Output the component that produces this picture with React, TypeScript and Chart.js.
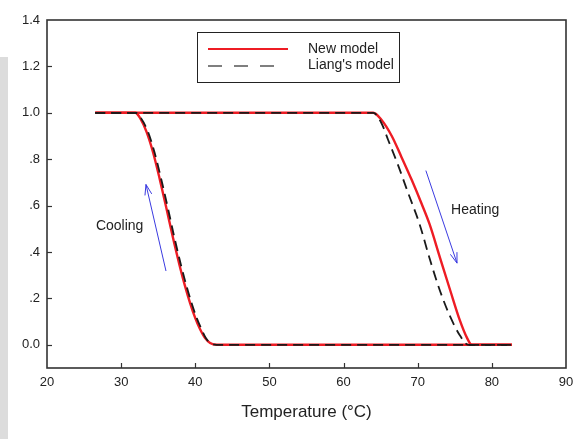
import React, { useEffect, useRef } from "react";
import { Chart, registerables } from "chart.js";

Chart.register(...registerables);

// ---- Data ----
const newCoolT = [26.5, 31.9, 32.6, 33.4, 34.3, 35.2, 36.1, 37.0, 37.9, 38.6, 39.3, 40.0, 40.6, 41.3, 42.0, 42.9, 82.7];
const newCoolV = [1.0, 1.0, 0.975, 0.92, 0.83, 0.715, 0.59, 0.46, 0.34, 0.255, 0.18, 0.115, 0.07, 0.03, 0.008, 0, 0];
const liangCoolT = [26.5, 31.9, 32.7, 33.6, 34.5, 35.4, 36.3, 37.2, 38.1, 38.8, 39.5, 40.2, 40.8, 41.4, 42.0, 42.9, 82.7];
const liangCoolV = [1.0, 1.0, 0.975, 0.92, 0.83, 0.715, 0.59, 0.46, 0.34, 0.255, 0.18, 0.115, 0.07, 0.03, 0.008, 0, 0];

const newHeatT = [26.5, 64.0, 65.1, 66.5, 67.8, 69.2, 70.5, 71.6, 73.0, 74.4, 75.7, 76.6, 77.3, 82.7];
const newHeatV = [1, 1, 0.97, 0.9, 0.81, 0.71, 0.61, 0.52, 0.376, 0.233, 0.104, 0.033, 0, 0];
const liangHeatT = [26.5, 64.0, 65.1, 66.0, 67.4, 68.7, 70.2, 71.7, 73.0, 74.4, 75.7, 76.8, 82.7];
const liangHeatV = [1, 1, 0.956, 0.884, 0.77, 0.655, 0.525, 0.362, 0.233, 0.12, 0.04, 0, 0];

const xTicks = [20, 30, 40, 50, 60, 70, 80, 90];
const yTicks = [0, 0.2, 0.4, 0.6, 0.8, 1.0, 1.2, 1.4];
const yTickLabels = ["0.0", ".2", ".4", ".6", ".8", "1.0", "1.2", "1.4"];

const seriesNames = ["New model", "Liang's model"];
const xTitle = "Temperature (°C)";

// annotations: [x1, y1, x2(head), y2(head)]
const coolingArrow = [36.05, 0.318, 33.35, 0.691];
const heatingArrow = [71.1, 0.751, 75.3, 0.352];
const coolingLabel = { text: "Cooling", x: 26.6, y: 0.511 };
const heatingLabel = { text: "Heating", x: 74.5, y: 0.579 };

const RED = "#ee1c24";
const BLACK = "#1a1a1a";
const FONT = "'Liberation Sans', Arial, sans-serif";

const toPts = (xs: number[], ys: number[]) => xs.map((x, i) => ({ x, y: ys[i] }));

const decorPlugin = {
  id: "decor",
  afterDatasetsDraw(chart: any) {
    const { ctx, chartArea: a, scales } = chart;
    const xs = scales.x;
    const ys = scales.y;
    ctx.save();
    // frame
    ctx.strokeStyle = "#333";
    ctx.lineWidth = 1.6;
    ctx.strokeRect(a.left, a.top, a.right - a.left, a.bottom - a.top);
    // inward ticks
    ctx.lineWidth = 1.2;
    xTicks.forEach((t) => {
      if (t === xTicks[0] || t === xTicks[xTicks.length - 1]) return;
      const px = Math.round(xs.getPixelForValue(t)) + 0.5;
      ctx.beginPath();
      ctx.moveTo(px, a.bottom);
      ctx.lineTo(px, a.bottom - 5);
      ctx.stroke();
    });
    yTicks.forEach((t) => {
      const py = Math.round(ys.getPixelForValue(t)) + 0.5;
      if (py <= a.top + 1) return;
      ctx.beginPath();
      ctx.moveTo(a.left, py);
      ctx.lineTo(a.left + 5, py);
      ctx.stroke();
    });

    // arrows
    const drawArrow = (arr: number[]) => {
      const x1 = xs.getPixelForValue(arr[0]);
      const y1 = ys.getPixelForValue(arr[1]);
      const x2 = xs.getPixelForValue(arr[2]);
      const y2 = ys.getPixelForValue(arr[3]);
      ctx.strokeStyle = "#3a3ae0";
      ctx.lineWidth = 1;
      ctx.beginPath();
      ctx.moveTo(x1, y1);
      ctx.lineTo(x2, y2);
      const ang = Math.atan2(y2 - y1, x2 - x1);
      const L = 11;
      const w = 0.32;
      ctx.moveTo(x2 - L * Math.cos(ang - w), y2 - L * Math.sin(ang - w));
      ctx.lineTo(x2, y2);
      ctx.lineTo(x2 - L * Math.cos(ang + w), y2 - L * Math.sin(ang + w));
      ctx.stroke();
    };
    drawArrow(coolingArrow);
    drawArrow(heatingArrow);

    // annotation text
    ctx.fillStyle = "#222";
    ctx.font = `14px ${FONT}`;
    ctx.textBaseline = "middle";
    ctx.textAlign = "left";
    [coolingLabel, heatingLabel].forEach((l) => {
      ctx.fillText(l.text, xs.getPixelForValue(l.x), ys.getPixelForValue(l.y));
    });

    // legend box
    const lx = 197.5, ly = 32.5, lw = 202, lh = 50;
    ctx.fillStyle = "#fff";
    ctx.fillRect(lx, ly, lw, lh);
    ctx.strokeStyle = "#222";
    ctx.lineWidth = 1;
    ctx.strokeRect(lx, ly, lw, lh);
    // red line
    ctx.strokeStyle = RED;
    ctx.lineWidth = 2.2;
    ctx.beginPath();
    ctx.moveTo(208, 49);
    ctx.lineTo(288, 49);
    ctx.stroke();
    // dashed
    ctx.strokeStyle = "#555";
    ctx.lineWidth = 1.6;
    ctx.setLineDash([14, 12]);
    ctx.beginPath();
    ctx.moveTo(208, 66);
    ctx.lineTo(280, 66);
    ctx.stroke();
    ctx.setLineDash([]);
    ctx.fillStyle = "#222";
    ctx.font = `14px ${FONT}`;
    ctx.fillText(seriesNames[0], 308, 49);
    ctx.fillText(seriesNames[1], 308, 65);
    ctx.restore();
  },
};

export default function App() {
  const ref = useRef<HTMLCanvasElement | null>(null);
  useEffect(() => {
    if (!ref.current) return;
    const chart = new Chart(ref.current, {
      type: "line",
      data: {
        datasets: [
          {
            label: seriesNames[1] + " cooling",
            data: toPts(liangCoolT, liangCoolV),
            borderColor: BLACK,
            borderWidth: 1.8,
            borderDash: [10, 6],
            pointRadius: 0,
            cubicInterpolationMode: "monotone",
            order: 0,
          },
          {
            label: seriesNames[1] + " heating",
            data: toPts(liangHeatT, liangHeatV),
            borderColor: BLACK,
            borderWidth: 1.8,
            borderDash: [10, 6],
            pointRadius: 0,
            cubicInterpolationMode: "monotone",
            order: 0,
          },
          {
            label: seriesNames[0] + " cooling",
            data: toPts(newCoolT, newCoolV),
            borderColor: RED,
            borderWidth: 2.4,
            pointRadius: 0,
            cubicInterpolationMode: "monotone",
            order: 1,
          },
          {
            label: seriesNames[0] + " heating",
            data: toPts(newHeatT, newHeatV),
            borderColor: RED,
            borderWidth: 2.4,
            pointRadius: 0,
            cubicInterpolationMode: "monotone",
            order: 1,
          },
        ],
      },
      options: {
        animation: false,
        responsive: false,
        maintainAspectRatio: false,
        layout: { padding: { top: 20, right: 7, left: 0, bottom: 0 } },
        plugins: { legend: { display: false }, tooltip: { enabled: false } },
        scales: {
          x: {
            type: "linear",
            min: 20,
            max: 90,
            afterFit: (s: any) => {
              s.height = 71;
              s.paddingLeft = 0;
              s.paddingRight = 0;
            },
            afterBuildTicks: (s: any) => {
              s.ticks = xTicks.map((v) => ({ value: v }));
            },
            grid: { display: false, drawTicks: false },
            border: { display: false },
            ticks: {
              padding: 7,
              color: "#222",
              font: { family: FONT, size: 13 },
              maxRotation: 0,
              autoSkip: false,
              callback: (v: any) => String(v),
            },
            title: {
              display: true,
              text: xTitle,
              color: "#222",
              font: { family: FONT, size: 17 },
              padding: { top: 0, bottom: 16 },
            },
          },
          y: {
            type: "linear",
            min: -0.1,
            max: 1.4,
            afterFit: (s: any) => {
              s.width = 47;
              s.paddingTop = 0;
              s.paddingBottom = 0;
            },
            afterBuildTicks: (s: any) => {
              s.ticks = yTicks.map((v) => ({ value: v }));
            },
            grid: { display: false, drawTicks: false },
            border: { display: false },
            ticks: {
              padding: 7,
              color: "#222",
              font: { family: FONT, size: 13 },
              autoSkip: false,
              callback: (v: any) => {
                const i = yTicks.findIndex((t) => Math.abs(t - v) < 1e-6);
                return i >= 0 ? yTickLabels[i] : "";
              },
            },
          },
        },
      },
      plugins: [decorPlugin],
    } as any);
    return () => chart.destroy();
  }, []);

  return (
    <div style={{ position: "fixed", left: 0, top: 0, width: 573, height: 439, background: "#fff" }}>
      <div style={{ position: "absolute", left: 0, top: 57, width: 8, height: 382, background: "#dcdcdc" }} />
      <canvas ref={ref} width={573} height={439} style={{ position: "absolute", left: 0, top: 0 }} />
    </div>
  );
}
